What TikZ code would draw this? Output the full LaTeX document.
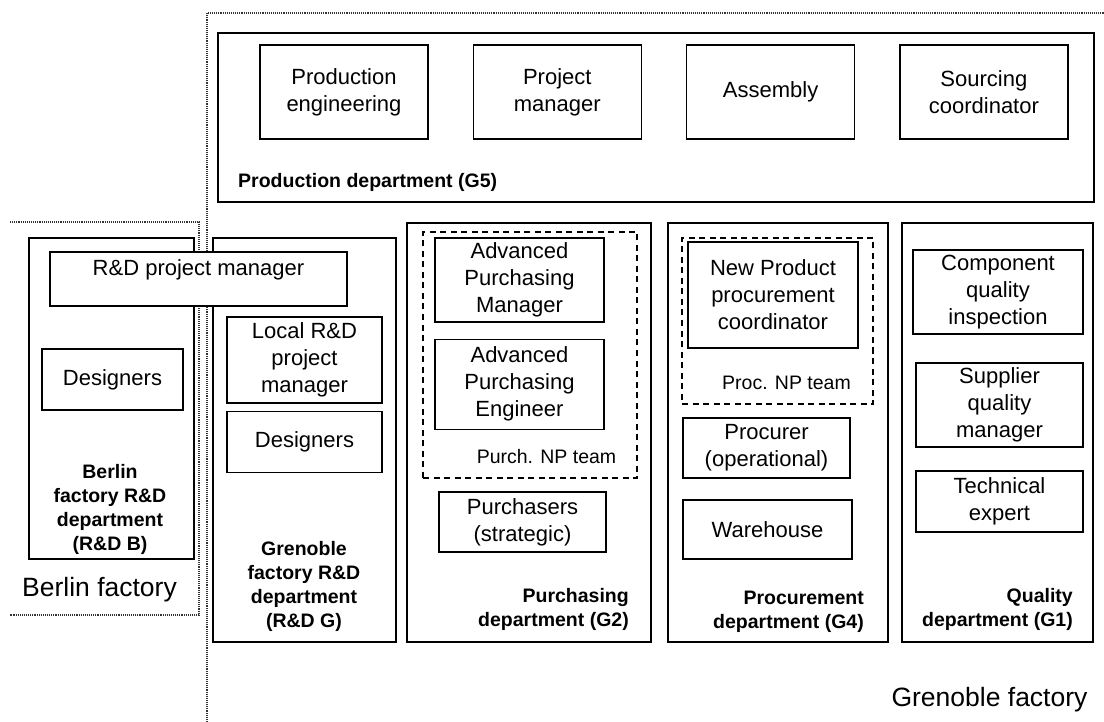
\documentclass[tikz,border=0pt]{standalone}
\usepackage{fontspec}
\setmainfont{Liberation Sans}
\usetikzlibrary{positioning}
\tikzset{
	unit/.style={rectangle, draw=black, fill=white, line width=1.3pt, align=center, inner sep=0pt, font=\fontsize{22}{27}\selectfont},
	dept/.style={rectangle, draw=black, fill=white, line width=1.3pt, inner sep=0pt},
	npteam/.style={rectangle, draw=black, dash pattern=on 6pt off 4.5pt, line width=1.5pt, inner sep=0pt},
	deptlabel/.style={align=center, inner sep=0pt, font=\fontsize{19.5}{24}\selectfont\bfseries},
	teamlabel/.style={inner sep=0pt, font=\fontsize{19.5}{24}\selectfont},
	sitelabel/.style={inner sep=0pt, font=\fontsize{26.5}{32}\selectfont},
	site/.style={densely dotted, line width=1.1pt, draw=black!80},
}
\begin{document}
\begin{tikzpicture}[x=1pt, y=-1pt, node distance=44pt]
		\useasboundingbox (0,0) rectangle (1104,722);
		\draw[site] (207,722) -- (207,13) -- (1104,13);
		\draw[site] (10,222) -- (199,222) -- (199,615) -- (10,615);
		\node[dept, minimum width=876pt, minimum height=169pt] (g5) at (656,117.5) {};
		\node[unit, minimum width=168pt, minimum height=94pt] (prodeng) at (344,92) {Production\\engineering};
		\node[unit, minimum width=168pt, minimum height=94pt, right=of prodeng] (projman) {Project\\manager};
		\node[unit, minimum width=168pt, minimum height=94pt, right=of projman] (assembly) {Assembly};
		\node[unit, minimum width=168pt, minimum height=94pt, right=of assembly] (sourcing) {Sourcing\\coordinator};
		\node[deptlabel, anchor=west] (g5lbl) at (238,182) {Production department (G5)};
		\node[dept, minimum width=165pt, minimum height=321pt] (rdb) at (111.5,398.5) {};
		\node[unit, minimum width=141pt, minimum height=61pt] (desb) at (112.5,379.5) {Designers};
		\node[deptlabel] (rdblbl) at (110,509) {Berlin\\factory R\&D\\department\\(R\&D B)};
		\node[sitelabel] (berlin) at (99.5,590) {Berlin factory};
		\node[dept, minimum width=183pt, minimum height=404pt] (rdg) at (304.5,440) {};
		\node[unit, minimum width=297pt, minimum height=54pt, text depth=22pt] (rdpm) at (198.5,279) {R\&D project manager};
		\node[unit, minimum width=155pt, minimum height=86pt] (locpm) at (304.5,360) {Local R\&D\\project\\manager};
		\node[unit, minimum width=155pt, minimum height=61pt, below=7pt of locpm] (desg) {Designers};
		\node[deptlabel] (rdglbl) at (304,586.5) {Grenoble\\factory R\&D\\department\\(R\&D G)};
		\node[dept, minimum width=244pt, minimum height=419pt] (g2) at (529,432.5) {};
		\node[npteam, minimum width=214pt, minimum height=246pt] (purchnp) at (530,355) {};
		\node[unit, minimum width=169pt, minimum height=84pt] (apm) at (519.5,280) {Advanced\\Purchasing\\Manager};
		\node[unit, minimum width=169pt, minimum height=90pt, below=16pt of apm] (ape) {Advanced\\Purchasing\\Engineer};
		\node[teamlabel] (purchnplbl) at (546.5,457) {Purch. NP team};
		\node[unit, minimum width=167pt, minimum height=60pt] (purchasers) at (522.5,522) {Purchasers\\(strategic)};
		\node[deptlabel, align=right, anchor=east] (g2lbl) at (629,609.5) {Purchasing\\department (G2)};
		\node[dept, minimum width=220pt, minimum height=419pt] (g4) at (778,432.5) {};
		\node[npteam, minimum width=191pt, minimum height=166pt] (procnp) at (777.5,321) {};
		\node[unit, minimum width=170pt, minimum height=106pt] (npcoord) at (773,295) {New Product\\procurement\\coordinator};
		\node[teamlabel] (procnplbl) at (786.5,383) {Proc. NP team};
		\node[unit, minimum width=167pt, minimum height=60pt] (procurer) at (766.5,448) {Procurer\\(operational)};
		\node[unit, minimum width=169pt, minimum height=59pt] (warehouse) at (767.5,529.5) {Warehouse};
		\node[deptlabel, align=right, anchor=east] (g4lbl) at (864,612) {Procurement\\department (G4)};
		\node[dept, minimum width=191pt, minimum height=419pt] (g1) at (997.5,432.5) {};
		\node[unit, minimum width=170pt, minimum height=84pt] (cqi) at (998,292) {Component\\quality\\inspection};
		\node[unit, minimum width=167pt, minimum height=84pt] (sqm) at (999.5,405) {Supplier\\quality\\manager};
		\node[unit, minimum width=167pt, minimum height=61pt] (techexp) at (999.5,501.5) {Technical\\expert};
		\node[deptlabel, align=right, anchor=east] (g1lbl) at (1073,609.5) {Quality\\department (G1)};
		\node[sitelabel] (grenoble) at (989.5,700) {Grenoble factory};
	\end{tikzpicture}
\end{document}
